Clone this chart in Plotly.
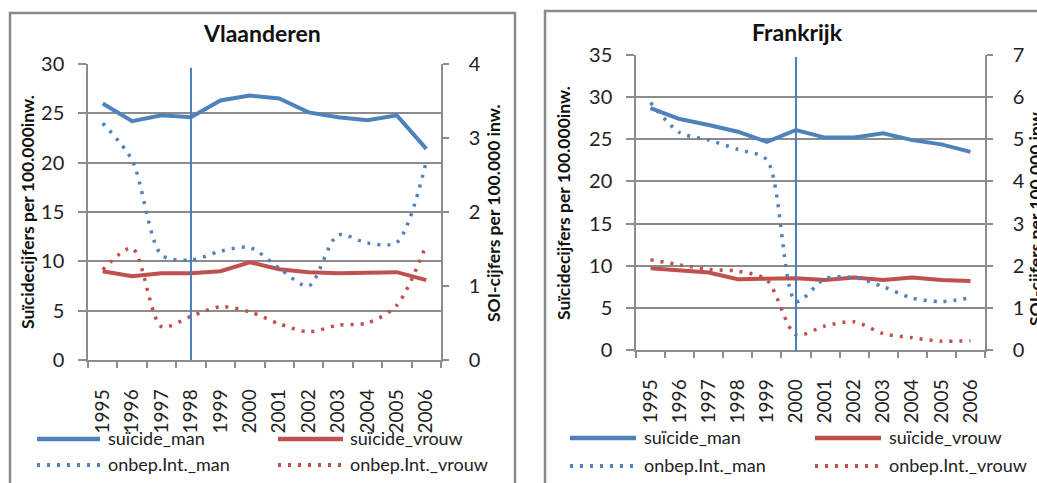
import plotly.graph_objects as go

# ---- data -------------------------------------------------------------
years = ["1995", "1996", "1997", "1998", "1999", "2000",
         "2001", "2002", "2003", "2004", "2005", "2006"]

# Vlaanderen: suicide rates (left axis) and undetermined-intent rates (right axis)
vl_suicide_man = [26.0, 24.2, 24.8, 24.6, 26.3, 26.8, 26.5, 25.1, 24.6, 24.3, 24.8, 21.4]
vl_suicide_vrouw = [9.0, 8.5, 8.8, 8.8, 9.0, 9.9, 9.2, 8.9, 8.8, 8.9, 8.9, 8.1]
vl_onbep_man = [3.2, 2.7, 1.42, 1.35, 1.47, 1.52, 1.24, 1.0, 1.69, 1.58, 1.59, 2.68]
vl_onbep_vrouw = [1.22, 1.51, 0.45, 0.59, 0.72, 0.65, 0.49, 0.38, 0.47, 0.50, 0.74, 1.56]
vl_marker_year = "1998"

# Frankrijk
fr_suicide_man = [28.7, 27.4, 26.7, 25.9, 24.7, 26.1, 25.2, 25.2, 25.7, 24.9, 24.4, 23.5]
fr_suicide_vrouw = [9.7, 9.4, 9.2, 8.4, 8.5, 8.5, 8.3, 8.6, 8.3, 8.6, 8.3, 8.2]
fr_onbep_man = [5.87, 5.16, 4.98, 4.76, 4.51, 1.15, 1.69, 1.72, 1.50, 1.23, 1.15, 1.24]
fr_onbep_vrouw = [2.14, 2.02, 1.91, 1.87, 1.66, 0.36, 0.57, 0.67, 0.39, 0.29, 0.21, 0.22]
fr_marker_year = "2000"

series_names = ["suïcide_man", "suïcide_vrouw", "onbep.Int._man", "onbep.Int._vrouw"]

# ---- styling ----------------------------------------------------------
W, H = 1037, 483
BLUE = "#4f81bd"
RED = "#c0504d"
GRID = "#8c8c8c"
TEXT = "#222222"
FONT = "Lato"
DOTS = "3px,7px"
SOLID_W = 4
DOT_W = 3.5


def px_x(v):
    return v / W


def px_y(v):
    return (H - v) / H


# series styles, in legend order
styles = [
    dict(color=BLUE, width=SOLID_W, dash="solid"),
    dict(color=RED, width=SOLID_W, dash="solid"),
    dict(color=BLUE, width=DOT_W, dash=DOTS),
    dict(color=RED, width=DOT_W, dash=DOTS),
]

fig = go.Figure()


def add_panel(xa, ya_left, ya_right, series):
    axes = [ya_left, ya_left, ya_right, ya_right]
    for name, values, ya, st in zip(series_names, series, axes, styles):
        line = dict(st)
        if st["dash"] != "solid":
            line.update(shape="spline", smoothing=0.8)
        fig.add_trace(go.Scatter(x=years, y=values, xaxis=xa, yaxis=ya, name=name,
                                 mode="lines", line=line, showlegend=False,
                                 hoverinfo="skip"))


add_panel("x", "y", "y2", [vl_suicide_man, vl_suicide_vrouw, vl_onbep_man, vl_onbep_vrouw])
add_panel("x2", "y3", "y4", [fr_suicide_man, fr_suicide_vrouw, fr_onbep_man, fr_onbep_vrouw])

# plot-area domains (paper fractions)
vl_dx = [px_x(88), px_x(441)]
vl_dy = [px_y(360), px_y(64)]
fr_dx = [px_x(636), px_x(985)]
fr_dy = [px_y(350), px_y(55)]

tickfont = dict(family=FONT, size=20, color=TEXT)
xtickfont = dict(family=FONT, size=19, color=TEXT)


def xaxis(domain, anchor):
    return dict(domain=domain, anchor=anchor, type="category", range=[-0.5, 11.5],
                tickson="boundaries", ticks="outside", ticklen=6, tickcolor=GRID,
                tickwidth=1.5, showline=True, linecolor=GRID, linewidth=1.5,
                showgrid=False, tickangle=-90, tickfont=xtickfont, ticklabelstandoff=20,
                automargin=False, fixedrange=True)


def yleft(domain, anchor, rng, dtick):
    return dict(domain=domain, anchor=anchor, range=rng, dtick=dtick, tick0=0,
                showgrid=True, gridcolor=GRID, gridwidth=1.5, zeroline=False,
                ticks="outside", ticklen=8, tickcolor=GRID, tickwidth=1.5,
                showline=True, linecolor=GRID, linewidth=1.5, automargin=False,
                tickfont=tickfont, ticklabelstandoff=10, ticklabeloverflow="allow",
                fixedrange=True)


def yright(overlay, anchor, rng, dtick):
    return dict(overlaying=overlay, anchor=anchor, side="right", range=rng, dtick=dtick,
                tick0=0, showgrid=False, zeroline=False, ticks="outside", ticklen=6,
                tickcolor=GRID, tickwidth=1.5, showline=True, linecolor=GRID, linewidth=1.5,
                automargin=False, tickfont=tickfont, ticklabelstandoff=16,
                ticklabeloverflow="allow", fixedrange=True)


shapes = [
    # chart frames
    dict(type="rect", xref="paper", yref="paper", x0=px_x(10), x1=px_x(515),
         y0=-0.2, y1=px_y(13), line=dict(color="#8a8a8a", width=2.5), layer="below"),
    dict(type="rect", xref="paper", yref="paper", x0=px_x(545), x1=1.2,
         y0=-0.2, y1=px_y(11), line=dict(color="#8a8a8a", width=2.5), layer="below"),
    # marker years
    dict(type="line", xref="x", yref="y domain",
         x0=years.index(vl_marker_year), x1=years.index(vl_marker_year),
         y0=0, y1=0.987, line=dict(color="#4a7ebb", width=2)),
    dict(type="line", xref="x2", yref="y3 domain",
         x0=years.index(fr_marker_year), x1=years.index(fr_marker_year),
         y0=-0.005, y1=0.993, line=dict(color="#4a7ebb", width=2)),
]

title_font = dict(family=FONT, size=23, color="#111111")
axis_title_font = dict(family=FONT, size=17.5, color="#111111")
legend_font = dict(family=FONT, size=18, color=TEXT)


def label(text, x, y, font, angle=0, xanchor="center"):
    return dict(text=text, x=px_x(x), y=px_y(y), xref="paper", yref="paper",
                xanchor=xanchor, yanchor="middle", textangle=angle, showarrow=False,
                font=font)


annotations = [
    label("<b>Vlaanderen</b>", 262, 33, title_font),
    label("<b>Frankrijk</b>", 797, 32, title_font),
    label("<b>Suïcidecijfers per 100.000inw.</b>", 27, 212, axis_title_font, -90),
    label("<b>SOI-cijfers per 100.000 inw.</b>", 493, 213, axis_title_font, -90),
    label("<b>Suïcidecijfers per 100.000inw.</b>", 563, 203, axis_title_font, -90),
    label("<b>SOI-cijfers per 100.000 inw.</b>", 1035, 217, axis_title_font, -90),
]

# legend keys: two columns x two rows under each chart
legend_layout = [
    # (sample x0, sample x1, text x, row y) for each series, per panel
    [(37, 100, 106, 439), (278, 343, 348, 439), (37, 100, 106, 465), (278, 343, 348, 465)],
    [(570, 636, 642, 438), (815, 881, 887, 438), (570, 636, 642, 466), (815, 881, 887, 466)],
]
for panel in legend_layout:
    for name, st, (sx0, sx1, tx, ry) in zip(series_names, styles, panel):
        shapes.append(dict(type="line", xref="paper", yref="paper",
                           x0=px_x(sx0), x1=px_x(sx1), y0=px_y(ry), y1=px_y(ry),
                           line=dict(color=st["color"], width=st["width"] + 0.5,
                                     dash=st["dash"])))
        annotations.append(label(name, tx, ry - 1, legend_font, xanchor="left"))

fig.update_layout(
    width=W, height=H, autosize=False,
    margin=dict(l=0, r=0, t=0, b=0, pad=0),
    paper_bgcolor="white", plot_bgcolor="white",
    font=dict(family=FONT, color=TEXT),
    xaxis=xaxis(vl_dx, "y"),
    yaxis=yleft(vl_dy, "x", [0, 30], 5),
    yaxis2=yright("y", "x", [0, 4], 1),
    xaxis2=xaxis(fr_dx, "y3"),
    yaxis3=yleft(fr_dy, "x2", [0, 35], 5),
    yaxis4=yright("y3", "x2", [0, 7], 1),
    shapes=shapes,
    annotations=annotations,
    showlegend=False,
)

fig.write_html("out.html", config={"displayModeBar": False})
